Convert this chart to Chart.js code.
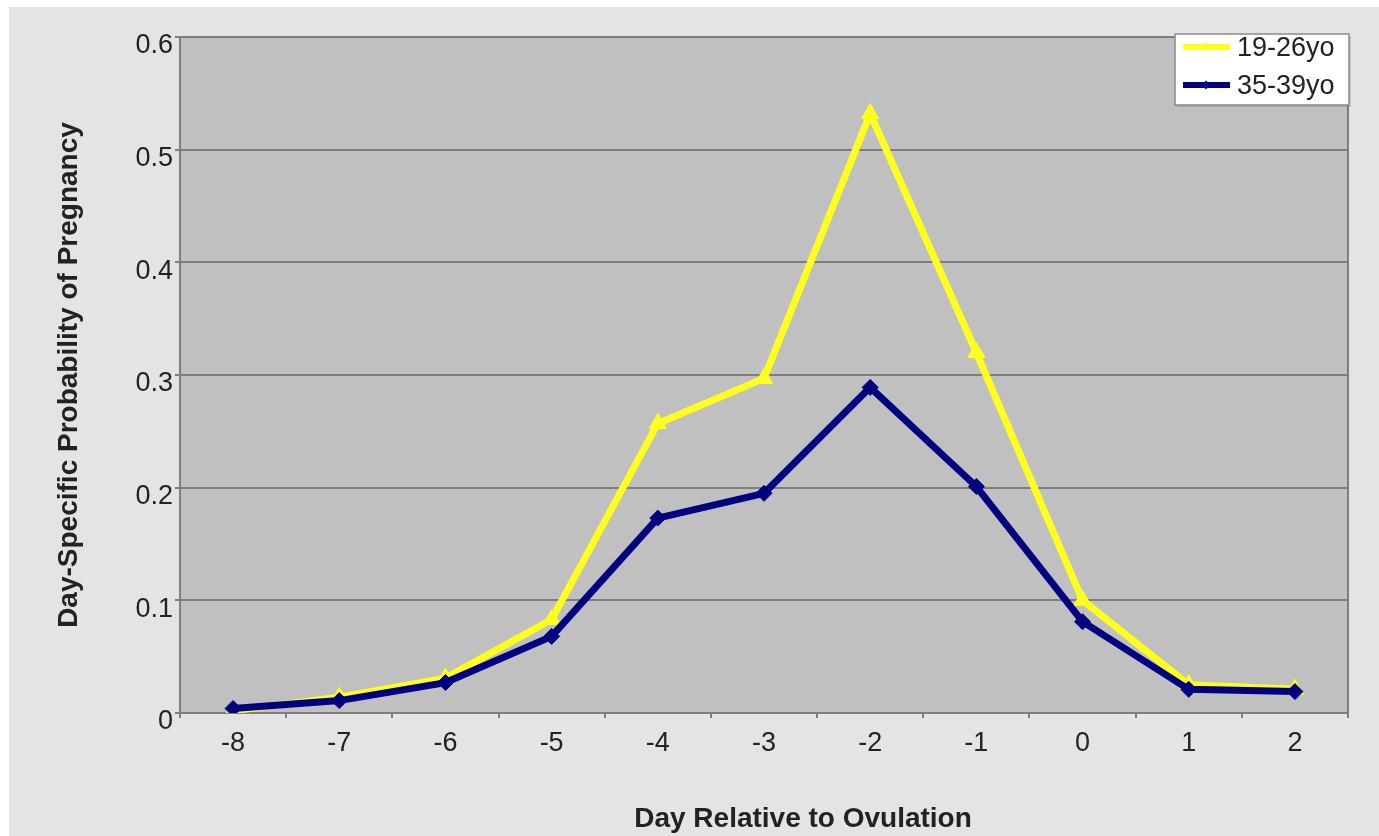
<!DOCTYPE html>
<html><head><meta charset="utf-8">
<script src="https://cdn.jsdelivr.net/npm/chart.js@4.4.1/dist/chart.umd.min.js"></script>
<style>html,body{margin:0;padding:0;background:#fff;overflow:hidden}#wrap{position:relative;width:1379px;height:836px}</style>
</head><body><div id="wrap"><canvas id="c" width="1379" height="836"></canvas></div>
<script>
const days = ['-8','-7','-6','-5','-4','-3','-2','-1','0','1','2'];
const young = [0.002,0.014,0.031,0.083,0.257,0.297,0.532,0.320,0.100,0.025,0.021];
const older = [0.004,0.011,0.027,0.068,0.173,0.195,0.289,0.201,0.081,0.021,0.019];
const seriesNames = ['19-26yo','35-39yo'];
const yTicks = [0,0.1,0.2,0.3,0.4,0.5,0.6];
const xTitle = 'Day Relative to Ovulation';
const yTitle = 'Day-Specific Probability of Pregnancy';

const FONT = "'Liberation Sans', Arial, sans-serif";
const YELLOW = '#ffff1e';
const NAVY = '#000080';
const TXT = '#222222';
const GRID = '#7e7e7e';

const decor = {
  id: 'decor',
  beforeDraw(chart) {
    const {ctx, width, height, chartArea: a} = chart;
    ctx.save();
    ctx.fillStyle = '#ffffff';
    ctx.fillRect(0, 0, width, height);
    ctx.fillStyle = '#e4e4e4';
    ctx.fillRect(9, 7, width - 9, height - 7);
    ctx.fillStyle = '#c0c0c0';
    ctx.fillRect(a.left, a.top, a.right - a.left, a.bottom - a.top);
    ctx.restore();
  },
  beforeDatasetsDraw(chart) {
    const {ctx, chartArea: a} = chart;
    ctx.save();
    ctx.strokeStyle = GRID;
    ctx.lineWidth = 2;
    ctx.strokeRect(a.left, a.top, a.right - a.left, a.bottom - a.top);
    ctx.restore();
  },
  afterDraw(chart) {
    const {ctx, chartArea: a} = chart;
    ctx.save();
    // x axis title
    ctx.font = "bold 28px " + FONT;
    ctx.fillStyle = TXT;
    ctx.textAlign = 'center';
    ctx.textBaseline = 'alphabetic';
    ctx.fillText(xTitle, a.left + 0.5334 * (a.right - a.left), 827);
    // legend
    const bx = a.right - 173, by = a.top - 3, bw = 174, bh = 71;
    ctx.fillStyle = 'rgba(0,0,0,0.12)';
    ctx.fillRect(bx + 2, by + 2, bw, bh);
    ctx.fillStyle = '#ffffff';
    ctx.fillRect(bx, by, bw, bh);
    ctx.strokeStyle = '#8a8a8a';
    ctx.lineWidth = 1.5;
    ctx.strokeRect(bx, by, bw, bh);
    [0, 1].forEach((di, k) => {
      const ds = chart.data.datasets[di];
      const y = by + 13 + k * 38;
      ctx.strokeStyle = ds.borderColor;
      ctx.lineWidth = 6;
      ctx.beginPath();
      ctx.moveTo(bx + 8, y);
      ctx.lineTo(bx + 55, y);
      ctx.stroke();
      ctx.fillStyle = ds.borderColor;
      ctx.strokeStyle = ds.borderColor;
      Chart.helpers.drawPoint(ctx, {pointStyle: ds.pointStyle, radius: ds.pointRadius * 0.55, rotation: 0, borderWidth: 0}, bx + 31, y);
      ctx.font = "27px " + FONT;
      ctx.fillStyle = TXT;
      ctx.textAlign = 'left';
      ctx.textBaseline = 'middle';
      ctx.fillText(ds.label, bx + 62, y + 2);
    });
    ctx.restore();
  }
};

new Chart(document.getElementById('c'), {
  type: 'line',
  data: {
    labels: days,
    datasets: [
      {
        label: seriesNames[0], data: young, order: 1,
        borderColor: YELLOW, backgroundColor: YELLOW, borderWidth: 7,
        pointStyle: 'triangle', pointRadius: 10, pointBorderWidth: 1,
        pointBackgroundColor: YELLOW, pointBorderColor: YELLOW, tension: 0
      },
      {
        label: seriesNames[1], data: older, order: 0,
        borderColor: NAVY, backgroundColor: NAVY, borderWidth: 7,
        pointStyle: 'rectRot', pointRadius: 8, pointBorderWidth: 1,
        pointBackgroundColor: NAVY, pointBorderColor: NAVY, tension: 0
      }
    ]
  },
  options: {
    responsive: false,
    animation: false,
    devicePixelRatio: 1,
    layout: {padding: {left: 0, top: 37, right: 31, bottom: 0}},
    plugins: {legend: {display: false}, tooltip: {enabled: false}},
    scales: {
      x: {
        offset: true,
        grid: {display: true, offset: true, drawOnChartArea: false, drawTicks: true, tickLength: 5, color: GRID, lineWidth: 2},
        border: {display: true, color: GRID, width: 2},
        ticks: {font: {family: FONT, size: 27}, color: TXT, padding: 9, maxRotation: 0},
        afterFit(s) { s.height = 123; }
      },
      y: {
        min: 0, max: 0.6,
        afterBuildTicks(s) { s.ticks = yTicks.map(v => ({value: v})); },
        grid: {display: true, drawTicks: true, tickLength: 5, color: GRID, lineWidth: 2},
        border: {display: true, color: GRID, width: 2},
        ticks: {font: {family: FONT, size: 27}, color: TXT, padding: 2, labelOffset: 9,
          callback: v => v === 0 ? '0' : Number(v).toFixed(1)},
        title: {display: true, text: yTitle, color: TXT, font: {family: FONT, size: 28, weight: 'bold'}, padding: {top: 52, bottom: 0}},
        afterFit(s) { s.width = 180; }
      }
    }
  },
  plugins: [decor]
});
</script>
</body></html>
